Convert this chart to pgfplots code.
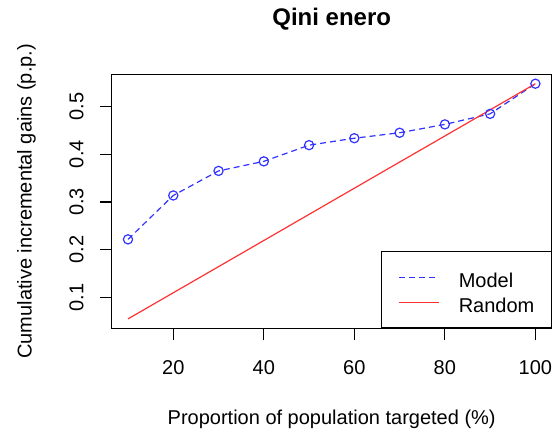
\documentclass[border=0pt]{standalone}
\usepackage{fontspec}
\setmainfont{Liberation Sans}
\usepackage{pgfplots}
\pgfplotsset{compat=1.18}
\definecolor{mblue}{RGB}{50,50,255}
\definecolor{rred}{RGB}{255,50,50}
\begin{document}
\begin{tikzpicture}
\useasboundingbox (0,0) rectangle (553pt,434pt);
\begin{axis}[
  at={(111.7pt,105.7pt)}, anchor=south west,
  scale only axis, width=440pt, height=254pt,
  xmin=6.4, xmax=103.6, ymin=0.0351, ymax=0.5675,
  xtick={20,40,60,80,100}, ytick={0.1,0.2,0.3,0.4,0.5},
  tick pos=left, tick align=outside, major tick length=12pt,
  axis line style={line width=1.2pt, black},
  every tick/.style={line width=1.2pt, black},
  font=\fontsize{20}{24}\selectfont,
  /pgf/number format/assume math mode=true,
  yticklabel style={/pgf/number format/.cd, fixed, fixed zerofill, precision=1, /tikz/.cd, xshift=-16pt, rotate=90, anchor=south, inner sep=0pt},
  xticklabel style={anchor=north, inner sep=0pt, yshift=-19.7pt},
  title={\bfseries Qini enero},
  title style={at={([yshift=42.6pt]rel axis cs:0.5,1)}, anchor=base, font=\bfseries\fontsize{24}{29}\selectfont},
  xlabel={Proportion of population targeted (\%)},
  xlabel style={at={([yshift=-95.7pt]rel axis cs:0.5,0)}, anchor=base},
  ylabel={Cumulative incremental gains (p.p.)},
  ylabel style={at={([xshift=-80pt]rel axis cs:0,0.5)}, anchor=base},
  legend cell align=left,
  legend style={at={(rel axis cs:1,0)}, anchor=south east,
    inner xsep=16.7pt, inner ysep=14pt, column sep=19.4pt, row sep=1.7pt,
    nodes={inner sep=0pt},
    font=\fontsize{20}{24}\selectfont},
  every axis legend/.append style={draw=black, line width=1.2pt},
]
\addplot[mblue, line width=1.2pt, dash pattern=on 6pt off 4pt, mark=o, mark size=4.6pt, mark options={solid, line width=1.2pt},
  legend image code/.code={\draw[mblue, line width=1.2pt, dash pattern=on 6pt off 4pt] (0pt,0pt) -- (40pt,0pt);}]
coordinates {(10,0.2215) (20,0.3135) (30,0.365) (40,0.385) (50,0.419) (60,0.4335) (70,0.445) (80,0.4625) (90,0.4846) (100,0.5478)};
\addlegendentry{\rule[-2.6pt]{0pt}{24.3pt}Model}
\addplot[rred, line width=1.2pt, mark=none,
  legend image code/.code={\draw[rred, line width=1.2pt] (0pt,0pt) -- (40pt,0pt);}]
coordinates {(10,0.0548) (20,0.1096) (30,0.1643) (40,0.2191) (50,0.2739) (60,0.3287) (70,0.3835) (80,0.4382) (90,0.4930) (100,0.5478)};
\addlegendentry{\rule[-2.6pt]{0pt}{24.3pt}Random}
\end{axis}
\end{tikzpicture}
\end{document}
